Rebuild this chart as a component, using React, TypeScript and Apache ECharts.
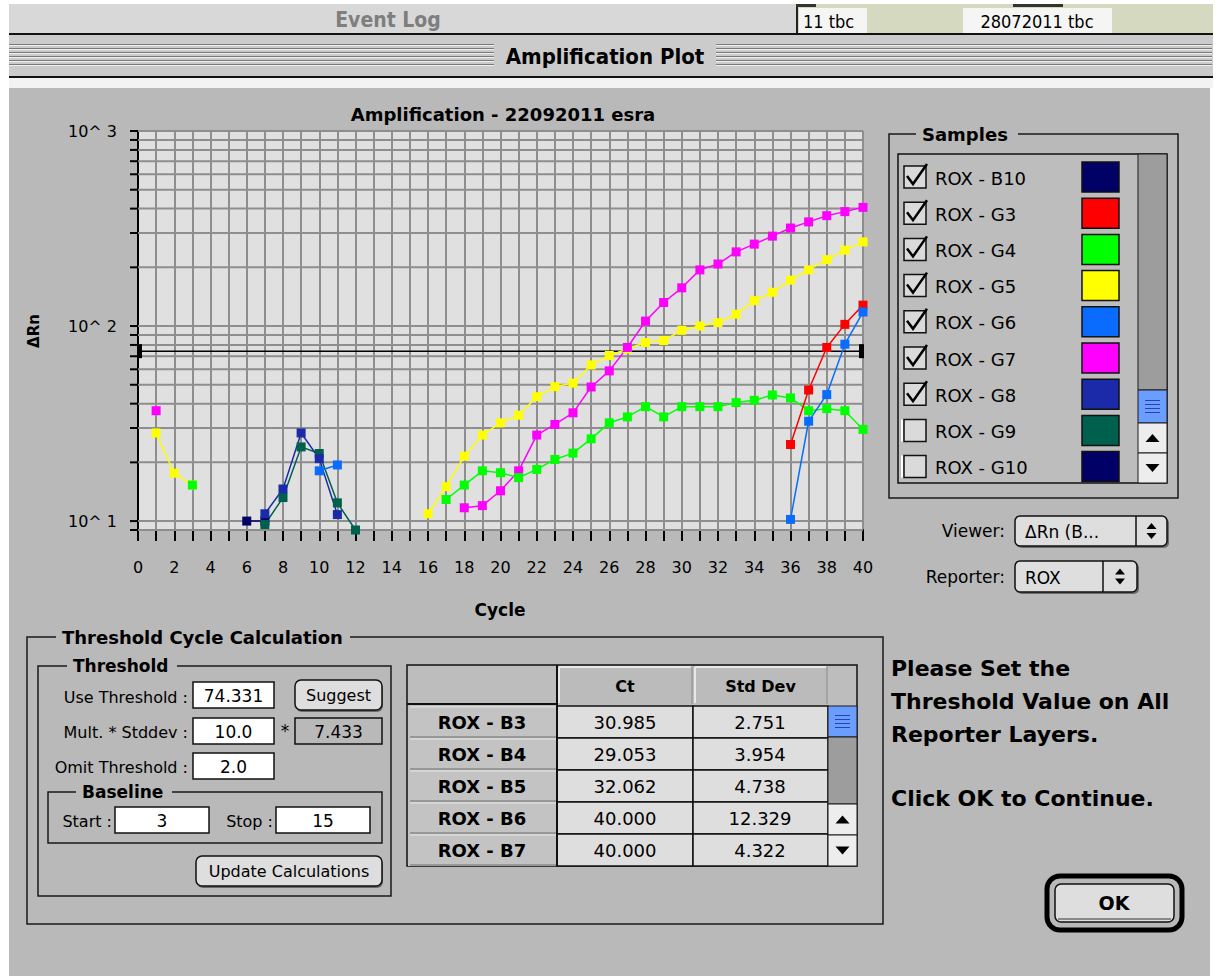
import React, { useEffect, useRef } from 'react';
import * as echarts from 'echarts';

const FONT = "'DejaVu Sans', 'Noto Sans', sans-serif";
const NARROW = "'Liberation Sans Narrow', 'DejaVu Sans Condensed', 'DejaVu Sans', sans-serif";

// ---------- chart data ----------
const thresholdValue = 74.331;
const yGridValues = [9, 10, 20, 30, 40, 50, 60, 70, 80, 90, 100, 200, 300, 400, 500, 600, 700, 800, 900, 1000];
const yTickLabels = ['10^ 1', '10^ 2', '10^ 3'];
const xLabelEvery = 2;

const b10Cycles = [6, 7];
const b10Values = [10.0, 10.0];
const g8Cycles = [7, 8, 9, 10, 11];
const g8Values = [10.9, 14.6, 28.3, 20.9, 10.8];
const g9Cycles = [7, 8, 9, 10, 11, 12];
const g9Values = [9.6, 13.2, 24.0, 22.2, 12.4, 9.0];
const g6EarlyCycles = [10, 11];
const g6EarlyValues = [18.1, 19.4];
const g6LateCycles = [36, 37, 38, 39, 40];
const g6LateValues = [10.2, 32.5, 44.5, 80.7, 118];
const g3Cycles = [36, 37, 38, 39, 40];
const g3Values = [24.7, 47.0, 77.6, 102, 128];
const g5EarlyCycles = [1, 2, 3];
const g5EarlyValues = [28.3, 17.6, 15.3];
const g5LateCycles = [16, 17, 18, 19, 20, 21, 22, 23, 24, 25, 26, 27, 28, 29, 30, 31, 32, 33, 34, 35, 36, 37, 38, 39, 40];
const g5LateValues = [10.9, 15.0, 21.5, 27.6, 31.9, 34.9, 43.4, 48.9, 51.0, 63.2, 70.6, 76.3, 82.3, 84.3, 95.1, 100, 104, 115, 135, 149, 172, 194, 219, 245, 270];
const g4EarlyCycles = [3];
const g4EarlyValues = [15.3];
const g4LateCycles = [17, 18, 19, 20, 21, 22, 23, 24, 25, 26, 27, 28, 29, 30, 31, 32, 33, 34, 35, 36, 37, 38, 39, 40];
const g4LateValues = [12.9, 15.3, 18.1, 17.7, 16.7, 18.4, 20.7, 22.3, 26.4, 31.9, 34.2, 38.6, 34.2, 38.6, 38.6, 38.6, 40.5, 41.6, 44.3, 42.8, 36.8, 37.7, 36.8, 29.5];
const g7EarlyCycles = [1];
const g7EarlyValues = [36.8];
const g7LateCycles = [18, 19, 20, 21, 22, 23, 24, 25, 26, 27, 28, 29, 30, 31, 32, 33, 34, 35, 36, 37, 38, 39, 40];
const g7LateValues = [11.7, 12.0, 14.3, 18.1, 27.6, 31.3, 35.9, 48.7, 58.9, 77.6, 106, 132, 157, 194, 208, 240, 263, 289, 318, 342, 368, 386, 406];

// ---------- side panel data ----------
const sampleNames = ['ROX - B10', 'ROX - G3', 'ROX - G4', 'ROX - G5', 'ROX - G6', 'ROX - G7', 'ROX - G8', 'ROX - G9', 'ROX - G10'];
const sampleColors = ['#000066', '#ff0000', '#00ff00', '#ffff00', '#0a6cff', '#ff00ff', '#1b2aa8', '#00604e', '#000066'];
const sampleChecked = [true, true, true, true, true, true, true, false, false];

const tableRowLabels = ['ROX - B3', 'ROX - B4', 'ROX - B5', 'ROX - B6', 'ROX - B7'];
const ctValues = ['30.985', '29.053', '32.062', '40.000', '40.000'];
const stdDevValues = ['2.751', '3.954', '4.738', '12.329', '4.322'];

const useThresholdText = '74.331';
const multText = '10.0';
const stddevText = '7.433';
const omitText = '2.0';
const baselineStart = '3';
const baselineStop = '15';

const messageLines = ['Please Set the', 'Threshold Value on All', 'Reporter Layers.', '', 'Click OK to Continue.'];

// ---------- helpers ----------
const rect = (x: number, y: number, w: number, h: number, fill: string, stroke?: string, lw = 1, r = 0, z = 5): any => ({
  type: 'rect', silent: true, z,
  shape: { x, y, width: w, height: h, r },
  style: { fill, stroke: stroke || null, lineWidth: stroke ? lw : 0 },
});
const line = (x1: number, y1: number, x2: number, y2: number, stroke: string, lw = 1, z = 6): any => ({
  type: 'line', silent: true, z,
  shape: { x1, y1, x2, y2 },
  style: { stroke, lineWidth: lw },
});
const poly = (points: number[][], fill: string, z = 7): any => ({
  type: 'polygon', silent: true, z, shape: { points }, style: { fill },
});
const txt = (x: number, y: number, text: string, size: number, o: any = {}): any => ({
  type: 'text', silent: true, z: o.z ?? 10, x, y, rotation: o.rotation || 0,
  style: {
    text,
    fill: o.color || '#000',
    font: `${o.bold ? 'bold ' : ''}${size}px ${o.family || FONT}`,
    textAlign: o.align || 'left',
    textVerticalAlign: 'middle',
  },
});
const groupBox = (x: number, y: number, w: number, h: number, title: string, tx: number, coverW: number, size = 17): any[] => [
  rect(x, y, w, h, 'none', '#1a1a1a', 1.5, 0, 4),
  rect(tx - 6, y - 9, coverW, 18, '#b9b9b9', undefined, 0, 0, 5),
  txt(tx, y, title, size, { bold: true }),
];
const button = (x: number, y: number, w: number, h: number, label: string): any[] => [
  rect(x + 1, y + 2, w, h, '#6a6a6a', undefined, 0, 6, 5),
  rect(x, y, w, h, '#dedede', '#111', 1.5, 6, 6),
  txt(x + w / 2, y + h / 2, label, 16, { align: 'center' }),
];
const input = (x: number, y: number, w: number, h: number, value: string, fill = '#ffffff'): any[] => [
  rect(x, y, w, h, fill, '#111', 1.5, 0, 6),
  txt(x + w / 2, y + h / 2 + 1, value, 17, { align: 'center' }),
];
const scrollThumb = (x: number, y: number, w: number, h: number): any[] => {
  const out: any[] = [rect(x, y, w, h, '#6b9dff', '#1a1a1a', 1, 0, 6)];
  const cy = y + h / 2;
  [-6, -2, 2, 6].forEach((d) => out.push(line(x + 7, cy + d, x + w - 7, cy + d, '#2343b0', 1, 7)));
  return out;
};
const arrowBox = (x: number, y: number, w: number, h: number, up: boolean): any[] => {
  const cx = x + w / 2, cy = y + h / 2;
  return [
    rect(x, y, w, h, '#ededed', '#1a1a1a', 1, 0, 6),
    up ? poly([[cx - 7, cy + 4], [cx + 7, cy + 4], [cx, cy - 4]], '#000') : poly([[cx - 7, cy - 4], [cx + 7, cy - 4], [cx, cy + 4]], '#000'),
  ];
};
const popup = (x: number, y: number, w: number, h: number, divX: number, label: string): any[] => {
  const ax = (divX + x + w) / 2, cy = y + h / 2;
  return [
    rect(x + 2, y + 2, w, h, '#6a6a6a', undefined, 0, 5, 5),
    rect(x, y, w, h, '#dedede', '#111', 1.5, 5, 6),
    line(divX, y, divX, y + h, '#111', 1.5, 7),
    txt(x + 10, cy + 1, label, 17),
    poly([[ax - 5, cy - 2], [ax + 5, cy - 2], [ax, cy - 8]], '#000'),
    poly([[ax - 5, cy + 2], [ax + 5, cy + 2], [ax, cy + 8]], '#000'),
  ];
};

function buildGraphics(): any[] {
  const els: any[] = [];
  // window body
  els.push(rect(9, 88, 1201, 888, '#b9b9b9', undefined, 0, 0, -100));
  els.push(rect(9, 78, 1204, 10, '#f3f3f3', undefined, 0, 0, -99));
  // event log bar
  els.push(rect(9, 4, 788, 30, '#d8d8d8', undefined, 0, 0, -99));
  els.push(rect(797, 4, 416, 30, '#d5d9bf', undefined, 0, 0, -99));
  els.push(rect(799, 8, 68, 25, '#f5f5f3'));
  els.push(rect(963, 8, 149, 25, '#f5f5f3'));
  els.push(rect(796, 4, 2, 30, '#222'));
  els.push(rect(796, 4, 20, 3, '#333'));
  els.push(rect(1013, 4, 50, 3, '#333'));
  els.push(txt(388, 20, 'Event Log', 21, { bold: true, color: '#7e7e7e', family: NARROW, align: 'center' }));
  els.push(txt(803, 21, '11 tbc', 18, { family: NARROW }));
  els.push(txt(1037, 21, '28072011 tbc', 18, { family: NARROW, align: 'center' }));
  els.push(rect(9, 33, 1204, 2, '#111'));
  // title bar
  els.push(rect(9, 35, 1204, 41, '#cbcbcb', undefined, 0, 0, -99));
  [44, 48, 52, 56, 60, 64].forEach((y) => {
    els.push(line(9, y + 0.5, 494, y + 0.5, '#7a7a7a', 1));
    els.push(line(716, y + 0.5, 1212, y + 0.5, '#7a7a7a', 1));
    els.push(line(9, y + 1.5, 494, y + 1.5, '#f0f0f0', 1));
    els.push(line(716, y + 1.5, 1212, y + 1.5, '#f0f0f0', 1));
  });
  els.push(txt(605, 56, 'Amplification Plot', 22, { bold: true, family: NARROW, align: 'center' }));
  els.push(rect(9, 76, 1204, 2, '#111'));

  // plot texts
  els.push(txt(503, 114, 'Amplification - 22092011 esra', 18, { bold: true, align: 'center' }));
  els.push(txt(34, 331, 'ΔRn', 15, { bold: true, align: 'center', rotation: Math.PI / 2 }));
  els.push(txt(500, 610, 'Cycle', 17, { bold: true, align: 'center' }));

  // samples
  els.push(...groupBox(889, 134, 289, 364, 'Samples', 922, 102, 18));
  els.push(rect(898, 154, 269, 329, '#bdbdbd', '#111', 1.5, 0, 5));
  sampleNames.forEach((name, i) => {
    const cy = 177 + 36.2 * i;
    els.push(rect(904, cy - 11, 22, 22, '#dadada', '#111', 1.5, 0, 6));
    if (sampleChecked[i]) {
      els.push({ type: 'polyline', silent: true, z: 8, shape: { points: [[907, cy - 1], [913, cy + 7], [927, cy - 13]] }, style: { stroke: '#000', lineWidth: 2.5, fill: 'none' } });
    } else {
      els.push(line(902, cy - 11, 902, cy + 11, '#ffffff', 2, 7));
    }
    els.push(txt(935, cy + 1, name, 18));
    els.push(rect(1082, cy - 15, 37, 30, sampleColors[i], '#111', 1.5, 0, 6));
  });
  els.push(rect(1138, 154, 29, 236, '#9d9d9d', '#1a1a1a', 1, 0, 6));
  els.push(...scrollThumb(1138, 390, 29, 33));
  els.push(...arrowBox(1138, 423, 29, 30, true));
  els.push(...arrowBox(1138, 453, 29, 30, false));

  // viewer / reporter
  els.push(txt(1005, 531, 'Viewer:', 17, { align: 'right' }));
  els.push(...popup(1015, 516, 152, 30, 1136, 'ΔRn (B...'));
  els.push(txt(1005, 577, 'Reporter:', 17, { align: 'right' }));
  els.push(...popup(1015, 561, 122, 31, 1103, 'ROX'));

  // threshold cycle calculation
  els.push(...groupBox(27, 637, 856, 287, 'Threshold Cycle Calculation', 62, 294, 18));
  els.push(...groupBox(38, 666, 353, 230, 'Threshold', 73, 110, 17));
  els.push(txt(188, 697, 'Use Threshold :', 16, { align: 'right' }));
  els.push(...input(193, 682, 81, 26, useThresholdText));
  els.push(...button(295, 680, 87, 30, 'Suggest'));
  els.push(txt(188, 732, 'Mult. * Stddev :', 16, { align: 'right' }));
  els.push(...input(193, 718, 81, 26, multText));
  els.push(txt(285, 731, '*', 17, { align: 'center' }));
  els.push(...input(295, 718, 87, 26, stddevText, '#b9b9b9'));
  els.push(txt(188, 767, 'Omit Threshold :', 16, { align: 'right' }));
  els.push(...input(193, 753, 81, 26, omitText));
  els.push(...groupBox(48, 792, 334, 51, 'Baseline', 82, 96, 17));
  els.push(txt(112, 821, 'Start :', 16, { align: 'right' }));
  els.push(...input(115, 807, 94, 26, baselineStart));
  els.push(txt(273, 821, 'Stop :', 16, { align: 'right' }));
  els.push(...input(276, 807, 94, 26, baselineStop));
  els.push(...button(196, 856, 186, 30, 'Update Calculations'));

  // table
  els.push(rect(407, 665, 450, 201, '#bdbdbd', '#111', 1.5, 0, 5));
  els.push(rect(408, 666, 149, 38, '#bdbdbd', undefined, 0, 0, 6));
  els.push(line(407, 704, 557, 704, '#111', 2, 8));
  els.push(line(557, 665, 557, 866, '#111', 2, 8));
  [[557, 136, 'Ct'], [693, 135, 'Std Dev']].forEach(([x, w, label]: any) => {
    els.push(rect(x, 666, w, 38, '#bbbbbb', undefined, 0, 0, 6));
    els.push(line(x + 2, 667, x + w - 2, 667, '#e8e8e8', 2, 7));
    els.push(line(x + 2, 667, x + 2, 703, '#e8e8e8', 2, 7));
    els.push(line(x + w - 1, 667, x + w - 1, 704, '#8a8a8a', 1, 7));
    els.push(txt(x + w / 2, 686, label, 16, { bold: true, align: 'center' }));
  });
  tableRowLabels.forEach((label, i) => {
    const y0 = 706 + 32 * i;
    els.push(rect(408, y0, 149, 32, '#c3c3c3', undefined, 0, 0, 6));
    els.push(line(410, y0 + 31, 556, y0 + 31, '#8a8a8a', 1.5, 7));
    els.push(line(410, y0 + 1, 556, y0 + 1, '#e6e6e6', 1, 7));
    els.push(txt(482, y0 + 16, label, 18, { bold: true, align: 'center' }));
    els.push(rect(557, y0, 136, 32, '#dedede', '#111', 1.5, 0, 6));
    els.push(rect(693, y0, 135, 32, '#dedede', '#111', 1.5, 0, 6));
    els.push(txt(625, y0 + 16, ctValues[i], 18, { align: 'center' }));
    els.push(txt(760, y0 + 16, stdDevValues[i], 18, { align: 'center' }));
  });
  els.push(...scrollThumb(828, 706, 29, 31));
  els.push(rect(828, 737, 29, 67, '#9d9d9d', '#1a1a1a', 1, 0, 6));
  els.push(...arrowBox(828, 804, 29, 31, true));
  els.push(...arrowBox(828, 835, 29, 31, false));

  // message
  const msgY = [668, 701, 734, 766, 798];
  messageLines.forEach((m, i) => {
    if (m) els.push(txt(891, msgY[i], m, 22, { bold: true }));
  });

  // OK button
  els.push(rect(1047, 876, 135, 54, 'none', '#000', 5, 13, 6));
  els.push(rect(1055, 884, 119, 38, '#dedede', '#111', 1.5, 6, 7));
  els.push(line(1058, 919, 1171, 919, '#8a8a8a', 2, 8));
  els.push(txt(1114, 903, 'OK', 19, { bold: true, align: 'center' }));
  return els;
}

const pairs = (cycles: number[], values: number[]) => cycles.map((c, i) => [c, values[i]]);

const lineSeries = (name: string, color: string, cycles: number[], values: number[]): any => ({
  type: 'line',
  name,
  data: pairs(cycles, values),
  symbol: 'rect',
  symbolSize: 9,
  showSymbol: true,
  lineStyle: { color, width: 1.5 },
  itemStyle: { color },
  silent: true,
  z: 3,
});

export default function App() {
  const ref = useRef<HTMLDivElement>(null);
  useEffect(() => {
    if (!ref.current) return;
    const chart = echarts.init(ref.current, undefined, { renderer: 'svg' });
    const option: any = {
      animation: false,
      backgroundColor: '#ffffff',
      textStyle: { fontFamily: FONT },
      grid: {
        left: 138, top: 131, width: 725, height: 399,
        show: true, backgroundColor: '#e0e0e0', borderColor: '#000', borderWidth: 1,
      },
      xAxis: {
        type: 'value', min: 0, max: 40, interval: 1,
        axisLine: { show: true, onZero: false, lineStyle: { color: '#000', width: 2 } },
        axisTick: { show: true, length: 11, lineStyle: { color: '#000', width: 2 } },
        axisLabel: {
          formatter: (v: number) => (v % xLabelEvery === 0 ? String(v) : ''),
          margin: 29, color: '#000', fontSize: 16, fontFamily: FONT,
        },
        splitLine: { show: true, lineStyle: { color: '#8e8e8e', width: 2 } },
      },
      yAxis: {
        type: 'log', logBase: 10, min: 9, max: 1000,
        axisLine: { show: true, onZero: false, lineStyle: { color: '#000', width: 2 } },
        axisTick: { show: false },
        splitLine: { show: false },
        axisLabel: {
          formatter: (v: number) => {
            const e = Math.log10(v);
            const r = Math.round(e);
            return Math.abs(e - r) < 1e-6 && r >= 1 && r <= 3 ? yTickLabels[r - 1] : '';
          },
          margin: 21, color: '#000', fontSize: 16, fontFamily: FONT,
        },
      },
      graphic: { elements: buildGraphics() },
      series: [
        {
          type: 'custom',
          name: 'grid',
          coordinateSystem: 'cartesian2d',
          data: yGridValues.map((v) => [0, v]),
          encode: { x: 0, y: 1 },
          clip: false,
          silent: true,
          z: 1,
          renderItem: (params: any, api: any) => {
            const v = api.value(1);
            const p0 = api.coord([0, v]);
            const p1 = api.coord([40, v]);
            return {
              type: 'group',
              children: [
                { type: 'line', shape: { x1: p0[0], y1: p0[1], x2: p1[0], y2: p1[1] }, style: { stroke: '#8e8e8e', lineWidth: 2 } },
                { type: 'line', shape: { x1: p0[0] - 8, y1: p0[1], x2: p0[0], y2: p0[1] }, style: { stroke: '#000', lineWidth: 2 } },
              ],
            };
          },
        },
        {
          type: 'custom',
          name: 'threshold',
          coordinateSystem: 'cartesian2d',
          data: [[0, thresholdValue]],
          encode: { x: 0, y: 1 },
          clip: false,
          silent: true,
          z: 2,
          renderItem: (params: any, api: any) => {
            const v = api.value(1);
            const p0 = api.coord([0, v]);
            const p1 = api.coord([40, v]);
            return {
              type: 'group',
              children: [
                { type: 'line', shape: { x1: p0[0], y1: p0[1], x2: p1[0], y2: p1[1] }, style: { stroke: '#000', lineWidth: 1.5 } },
                { type: 'rect', shape: { x: p0[0] - 1, y: p0[1] - 7, width: 5, height: 14 }, style: { fill: '#000' } },
                { type: 'rect', shape: { x: p1[0] - 4, y: p1[1] - 7, width: 5, height: 14 }, style: { fill: '#000' } },
              ],
            };
          },
        },
        lineSeries('ROX - B10', '#000066', b10Cycles, b10Values),
        lineSeries('ROX - G9', '#00604e', g9Cycles, g9Values),
        lineSeries('ROX - G8', '#1b2aa8', g8Cycles, g8Values),
        lineSeries('ROX - G6', '#0a6cff', g6EarlyCycles, g6EarlyValues),
        lineSeries('ROX - G5', '#ffff00', g5EarlyCycles, g5EarlyValues),
        lineSeries('ROX - G4', '#00ff00', g4EarlyCycles, g4EarlyValues),
        lineSeries('ROX - G7', '#ff00ff', g7EarlyCycles, g7EarlyValues),
        lineSeries('ROX - G5', '#ffff00', g5LateCycles, g5LateValues),
        lineSeries('ROX - G7', '#ff00ff', g7LateCycles, g7LateValues),
        lineSeries('ROX - G4', '#00ff00', g4LateCycles, g4LateValues),
        lineSeries('ROX - G3', '#ff0000', g3Cycles, g3Values),
        lineSeries('ROX - G6', '#0a6cff', g6LateCycles, g6LateValues),
      ],
    };
    chart.setOption(option);
    return () => chart.dispose();
  }, []);
  return <div ref={ref} style={{ position: 'absolute', left: 0, top: 0, width: 1224, height: 976 }} />;
}
